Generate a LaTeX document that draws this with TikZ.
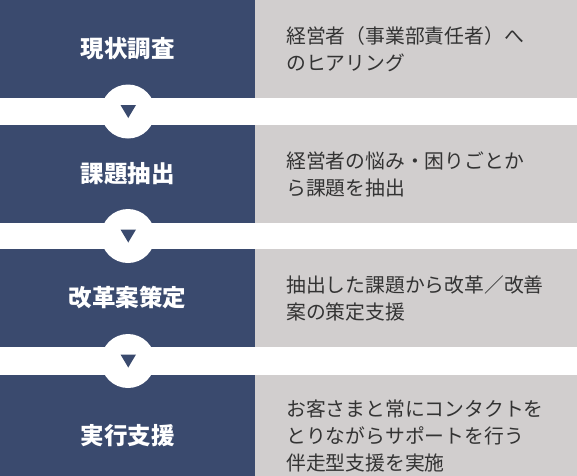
\documentclass[tikz,border=0pt]{standalone}
\usepackage{fontspec}
\setmainfont{Noto Sans CJK JP}
\definecolor{navy}{HTML}{3A4A6E}
\definecolor{stone}{HTML}{D1CECE}
\definecolor{ink}{HTML}{333333}
\begin{document}
\begin{tikzpicture}[x=1pt, y=-1pt,
    stepname/.style={text=white, inner sep=0pt, font=\fontsize{23.5}{27}\selectfont\bfseries},
    stepnote/.style={anchor=west, align=left, text=ink, inner sep=0pt, font=\fontsize{19.8}{27}\selectfont},
    marker/.style={circle, fill=white, minimum size=54pt, inner sep=0pt}]
  \clip (0, 0) rectangle (577, 475);

  % rows
  \fill [navy] (0, 0) rectangle (255, 98);
  \fill [stone] (255, 0) rectangle (577, 98);
  \fill [navy] (0, 125) rectangle (255, 223);
  \fill [stone] (255, 125) rectangle (577, 223);
  \fill [navy] (0, 249) rectangle (255, 347);
  \fill [stone] (255, 249) rectangle (577, 347);
  \fill [navy] (0, 375) rectangle (255, 497);
  \fill [stone] (255, 375) rectangle (577, 497);

  \node [stepname] (survey) at (127.5, 49) {現状調査};
  \node [stepnote] (surveynote) at (286, 49) {経営者（事業部責任者）へ\\のヒアリング};
  \node [stepname] (issues) at (127.5, 174) {課題抽出};
  \node [stepnote] (issuesnote) at (286, 174) {経営者の悩み・困りごとか\\ら課題を抽出};
  \node [stepname] (plan) at (127.5, 298) {改革案策定};
  \node [stepnote] (plannote) at (286, 298) {抽出した課題から改革／改善\\案の策定支援};
  \node [stepname] (support) at (127.5, 436) {実行支援};
  \node [stepnote] (supportnote) at (286, 436) {お客さまと常にコンタクトを\\とりながらサポートを行う\\伴走型支援を実施};

  % arrows between rows
  \foreach \y in {111.5, 236, 361} {
    \node [marker] at (128, \y) {};
    \fill [navy] (120.5, \y - 6.5) -- (136, \y - 6.5) -- (128.25, \y + 6.5) -- cycle;
  }
\end{tikzpicture}
\end{document}
